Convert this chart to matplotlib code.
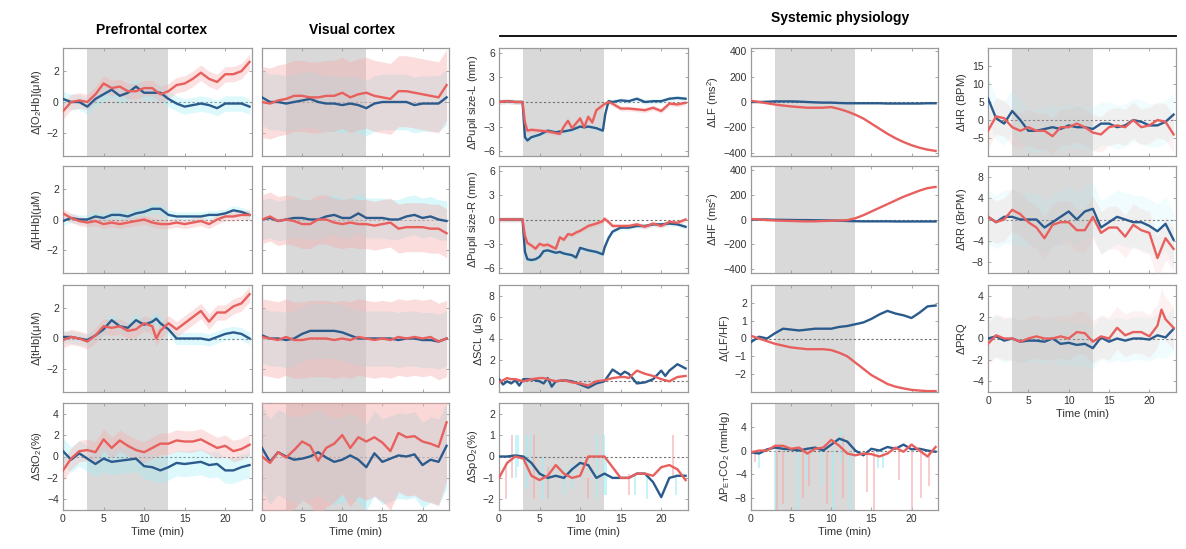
import matplotlib
matplotlib.use("Agg")
import matplotlib.pyplot as plt
from matplotlib.lines import Line2D

plt.rcParams['font.family'] = ['Liberation Sans', 'DejaVu Sans']
plt.rcParams['mathtext.fontset'] = 'custom'
plt.rcParams['mathtext.rm'] = 'Liberation Sans'
plt.rcParams['mathtext.it'] = 'Liberation Sans:italic'
plt.rcParams['mathtext.default'] = 'regular'

# ---------------- data ----------------
T = list(range(24))
shade = (3, 13)

pfc_o2hb_blue = [0.2,0.0,0.0,-0.3,0.2,0.5,0.8,0.4,0.6,1.0,0.6,0.6,0.6,0.2,-0.1,-0.3,-0.2,-0.1,-0.2,-0.4,-0.1,-0.1,-0.1,-0.3]
pfc_o2hb_red = [-0.6,0.0,0.1,0.0,0.5,1.2,0.9,1.0,0.7,0.7,0.9,0.9,0.5,0.7,1.1,1.2,1.5,1.9,1.5,1.3,1.8,1.8,2.0,2.6]
pfc_hhb_blue = [-0.1,0.1,0.0,0.0,0.2,0.1,0.3,0.3,0.2,0.4,0.5,0.7,0.7,0.3,0.2,0.2,0.2,0.2,0.3,0.3,0.4,0.6,0.5,0.3]
pfc_hhb_red = [0.4,0.1,-0.1,-0.2,-0.1,-0.3,-0.2,-0.3,-0.2,-0.1,0.0,-0.2,-0.3,-0.3,-0.2,-0.3,-0.2,-0.1,-0.3,0.0,0.2,0.2,0.3,0.3]
pfc_thb_t = [0,1,2,3,4,5,6,7,8,9,10,11,11.5,12,13,14,15,16,17,18,19,20,21,22,23]
pfc_thb_blue = [0.1,0.1,0.0,-0.1,0.2,0.6,1.2,0.8,0.7,1.2,0.9,1.1,1.3,1.0,0.6,0.0,0.0,0.0,0.0,-0.1,0.1,0.3,0.4,0.3,0.0]
pfc_thb_red = [-0.1,0.1,0.0,-0.2,0.2,0.8,0.7,0.8,0.5,0.6,1.0,0.8,0.0,0.5,1.0,0.6,1.0,1.4,1.8,1.1,1.7,1.7,2.1,2.3,2.9]
pfc_sto2_blue = [0.5,-0.3,0.3,-0.2,-0.7,-0.2,-0.5,-0.4,-0.3,-0.2,-0.9,-1.0,-1.3,-1.0,-0.6,-0.7,-0.6,-0.5,-0.8,-0.7,-1.3,-1.3,-1.0,-0.8]
pfc_sto2_red = [-1.3,-0.2,0.5,0.6,0.4,1.6,0.8,1.5,1.0,0.6,0.4,0.8,1.2,1.2,1.5,1.4,1.4,1.6,1.2,0.8,1.0,0.5,0.7,1.1]

vc_o2hb_blue = [0.3,0.0,0.0,-0.1,0.0,0.1,0.2,0.0,-0.1,-0.1,-0.2,-0.1,-0.2,-0.4,-0.1,0.0,0.0,0.0,0.0,-0.2,-0.1,-0.1,-0.1,0.3]
vc_o2hb_red = [0.0,-0.1,0.1,0.2,0.4,0.4,0.3,0.3,0.4,0.4,0.6,0.3,0.5,0.6,0.4,0.3,0.2,0.7,0.7,0.6,0.5,0.4,0.3,1.1]
vc_hhb_blue = [0.0,0.1,-0.1,0.0,0.1,0.1,0.0,0.0,0.2,0.3,0.1,0.1,0.4,0.1,0.1,0.1,0.0,0.0,0.2,0.3,0.1,0.2,0.0,-0.1]
vc_hhb_red = [0.0,0.2,-0.1,0.0,-0.1,-0.3,-0.3,0.0,0.0,-0.2,-0.3,-0.2,-0.3,-0.3,-0.4,-0.3,-0.2,-0.6,-0.5,-0.5,-0.5,-0.6,-0.6,-0.9]
vc_thb_blue = [0.2,0.0,0.0,-0.1,0.0,0.3,0.5,0.5,0.5,0.5,0.4,0.2,0.0,0.0,0.0,0.0,0.0,-0.1,0.0,0.0,-0.1,-0.1,-0.2,0.0]
vc_thb_red = [0.1,0.0,-0.1,0.1,-0.1,-0.1,0.0,0.0,0.0,-0.1,0.0,-0.1,0.1,0.0,-0.1,0.0,-0.1,0.1,0.0,0.1,0.0,0.1,-0.2,0.0]
vc_sto2_blue = [0.8,-0.5,0.4,0.0,-0.3,-0.2,0.0,0.4,-0.1,-0.5,-0.3,0.1,-0.3,-1.0,0.3,-0.5,-0.2,0.1,0.0,0.2,-0.8,-0.3,-0.5,1.0]
vc_sto2_red = [0.0,-0.6,0.4,-0.1,0.6,1.4,1.0,-0.4,0.8,1.2,2.0,0.8,1.8,1.4,1.8,1.3,0.5,2.2,1.8,1.9,1.4,1.2,0.9,3.2]

pupil_l_t = [0,1,2,2.9,3.2,3.5,4,5,6,7,7.5,8,8.5,9,10,10.5,11,11.5,12,12.8,13.1,13.5,14,15,16,17,18,19,20,21,22,23]
pupil_l_blue = [0.0,0.1,0.0,0.0,-4.3,-4.7,-4.3,-4.0,-3.5,-3.7,-3.6,-3.6,-3.5,-3.4,-3.0,-3.1,-3.0,-3.1,-3.2,-3.5,-1.5,0.1,0.0,0.2,0.1,0.4,0.0,0.1,0.1,0.4,0.5,0.4]
pupil_l_red = [0.0,0.1,0.0,0.0,-2.5,-3.5,-3.4,-3.5,-3.6,-3.8,-3.9,-3.0,-2.3,-3.2,-2.0,-3.1,-1.8,-2.5,-1.0,-0.4,-0.2,0.0,-0.2,-0.8,-0.8,-0.9,-1.0,-0.7,-1.1,-0.2,-0.3,-0.1]
pupil_r_t = [0,1,2,2.9,3.2,3.5,4,4.5,5,5.5,6,7,7.5,8,8.5,9,9.5,10,11,12,12.8,13,13.5,14,15,16,17,18,19,20,21,22,23]
pupil_r_blue = [0,0,0,0,-4.0,-4.9,-5.0,-4.9,-4.6,-3.9,-3.8,-4.1,-4.0,-4.2,-4.3,-4.4,-4.7,-3.5,-3.8,-4.0,-4.3,-3.5,-2.3,-1.5,-1.0,-1.0,-0.8,-0.8,-0.6,-0.6,-0.5,-0.6,-0.9]
pupil_r_red = [0,0,0,0,-2.0,-2.9,-3.2,-3.6,-3.0,-3.2,-3.1,-3.6,-2.2,-2.5,-1.8,-1.9,-1.6,-1.4,-0.8,-0.5,-0.2,0.1,-0.3,-0.8,-0.8,-0.8,-0.6,-0.9,-0.5,-0.8,-0.3,-0.4,0.0]
scl_t = [0,0.5,1,1.5,2,2.5,3,4,5,5.5,6,6.5,7,8,9,10,11,12,13,14,15,15.5,16,17,18,19,20,20.5,21,22,23]
scl_blue = [0.2,-0.3,0.0,-0.2,0.1,-0.4,0.2,0.2,0.0,-0.2,0.3,-0.5,0.0,0.1,0.0,-0.3,-0.6,-0.2,0.0,1.1,0.6,0.9,0.7,-0.2,-0.1,0.2,1.0,0.5,1.0,1.6,1.2]
scl_red = [-0.1,0.1,0.3,0.2,0.2,0.1,0.0,0.2,0.3,0.3,0.2,0.1,0.0,0.1,-0.1,-0.2,-0.4,0.0,0.1,0.3,0.4,0.4,0.3,1.0,0.7,0.5,0.2,0.1,0.0,0.4,0.5]
spo2_blue = [0.0,0.0,0.05,0.0,-0.3,-0.8,-1.0,-0.9,-1.0,-0.6,-0.3,-0.4,-1.0,-0.8,-1.0,-1.0,-1.0,-0.8,-0.8,-1.2,-1.9,-1.0,-0.9,-0.9]
spo2_red = [-1.0,-0.3,0.0,-0.1,-0.9,-1.1,-0.9,-0.4,-0.8,-1.0,-0.9,0.0,0.0,0.0,-0.5,-1.0,-1.0,-0.8,-0.8,-0.9,-0.5,-0.4,-0.6,-1.1]
spo2_spike_blue_t = [2.1,2.4,3.5,4.0,5.4,6.2,8.0,9.0,12.1,12.9,13.2,16.8,18.3,21.8]
spo2_spike_blue_lo = [-1.0,-0.5,-1.5,-0.5,-2.0,-2.0,-1.8,-1.5,-2.0,-1.8,-1.8,-1.8,-2.0,-1.8]
spo2_spike_blue_hi = [1.0,1.0,1.0,1.0,0.0,-0.5,-0.5,-0.3,1.0,1.0,0.0,-0.8,-0.8,-0.8]
spo2_spike_red_t = [0.9,1.6,4.3,6.0,11.0,16.0,21.5]
spo2_spike_red_lo = [-2.0,-1.0,-2.0,-2.0,-2.0,-1.8,-1.0]
spo2_spike_red_hi = [-0.5,1.0,1.0,-0.5,-1.0,-0.8,1.0]

lf_red = [10,0,-10,-20,-28,-35,-40,-45,-45,-45,-40,-55,-75,-100,-130,-170,-210,-250,-285,-315,-340,-360,-375,-385]
lf_blue = [0,0,2,5,5,5,3,0,-3,-5,-5,-8,-10,-10,-10,-10,-10,-12,-12,-12,-12,-12,-10,-10]
hf_red = [5,0,-5,-8,-10,-12,-14,-15,-15,-12,-10,-8,-5,10,35,65,95,125,155,185,210,235,255,265]
hf_blue = [0,0,0,-2,-3,-4,-5,-5,-6,-7,-8,-10,-12,-14,-15,-15,-15,-15,-16,-16,-16,-16,-16,-16]
lfhf_blue = [-0.2,0.1,0.0,0.3,0.55,0.5,0.45,0.5,0.55,0.55,0.55,0.65,0.7,0.8,0.9,1.1,1.35,1.55,1.4,1.3,1.15,1.45,1.8,1.85]
lfhf_red = [0.15,0.0,-0.15,-0.3,-0.4,-0.5,-0.55,-0.6,-0.6,-0.6,-0.65,-0.8,-1.0,-1.35,-1.7,-2.05,-2.3,-2.55,-2.7,-2.8,-2.88,-2.92,-2.95,-2.95]
petco2_blue = [-0.3,-0.5,0.2,0.5,0.3,0.2,0.0,0.3,0.5,0.0,1.0,2.0,1.5,0.0,-0.8,0.3,0.0,0.6,0.3,1.0,0.2,0.3,0.0,-0.2]
petco2_red = [-0.3,0.0,0.0,0.8,0.8,0.3,0.5,-0.5,0.3,0.5,1.8,0.8,-0.5,-0.8,-0.5,-0.6,-1.0,-0.5,0.5,-0.2,1.0,0.0,-1.0,0.6]
petco2_spike_blue_t = [1.0,3.0,5.8,7.0,8.8,10.2,11.2,12.3,15.8,16.5]
petco2_spike_blue_lo = [-3,-10,-10,-5,-6,-10,-2,-10,-3,-3]
petco2_spike_blue_hi = [0,0,0,0,0,0,3.5,0,0,0]
petco2_spike_red_t = [0.5,3.2,4.0,6.5,7.2,9.5,11.5,14.5,15.3,18.5,20.0,21.2,22.2]
petco2_spike_red_lo = [-2,-10,-9,-8,-6,-9,-8,-7,-10,-5,-10,-8,-6]
petco2_spike_red_hi = [0,0,0,0,0,0,2.5,0,0,0,0,0,0]

hr_blue = [6,0.5,-1,2.5,0,-3,-3,-2.5,-2,-2.5,-1.5,-2,-2,-2.5,-1,-1,-2,-1.5,0,-0.5,-1.5,-1.5,-0.5,1.5]
hr_red = [-3,1,0.5,-2,-3,-2,-3,-3,-4.5,-2,-2,-1,-2,-3.5,-4,-2,-1.5,-2,0,-2,-1.5,0,-0.5,-4]
rr_blue = [0.5,-0.5,0.5,0.5,0.0,0.0,0.0,-1.5,-0.5,0.5,1.5,0.0,1.5,2.0,-1.5,-0.5,0.5,0.0,-0.5,-0.5,-1.2,-2.2,-0.8,-3.8]
rr_red = [0.5,-0.5,0.0,1.8,1.0,-0.5,-1.5,-3.5,-1.0,-0.5,-0.5,-2.0,-2.0,0.5,-2.5,-1.5,-1.5,-3.2,-1.0,-2.0,-2.5,-7.2,-3.5,-5.5]
prq_t = [0,1,2,3,4,5,6,7,8,9,10,11,12,13,14,15,16,17,18,19,20,21,21.5,22,23]
prq_blue = [0.0,0.2,-0.2,0.0,-0.3,-0.2,-0.2,-0.3,0.0,-0.5,-0.4,-0.6,-0.5,-0.9,0.1,-0.3,0.0,-0.2,0.0,0.0,-0.1,0.3,0.2,0.1,0.9]
prq_red = [-0.5,0.3,0.0,0.0,-0.3,0.0,0.2,0.0,0.0,0.2,0.0,0.6,0.5,-0.3,0.2,0.0,1.0,0.3,0.6,0.6,0.2,1.2,2.7,1.8,1.0]

# raw-signal spread (half width of the faint background traces)
noise = {
    'pfc_o2hb': (0.5, 0.5), 'pfc_hhb': (0.3, 0.3), 'pfc_thb': (0.4, 0.5), 'pfc_sto2': (1.2, 1.0),
    'vc_o2hb': (1.8, 2.3), 'vc_hhb': (1.3, 1.6), 'vc_thb': (1.8, 2.5), 'vc_sto2': (4.0, 5.5),
    'pupil_l': (0.3, 0.3), 'pupil_r': (0.3, 0.3),
    'hr': (6, 5), 'rr': (5, 4), 'prq': (2, 2),
}

# ---------------- style ----------------
BLUE = '#2b5b8c'
RED = '#e8605e'
CYAN = '#9eeef6'
PINK = '#f6aaaa'
SHADE = '#d9d9d9'
W, H = 1186, 549

fig = plt.figure(figsize=(W/100, H/100), dpi=100)

cols = [(63, 252), (262, 449), (499, 688), (751, 938), (988, 1176)]
rows = [(48, 156), (166, 273), (285, 392), (403, 510)]

def make_ax(c, r):
    x0, x1 = cols[c]
    y0, y1 = rows[r]
    return fig.add_axes([x0/W, 1-y1/H, (x1-x0)/W, (y1-y0)/H])

def style(ax, ylim, yticks, ylabel=None, show_yt=True, show_x=False):
    ax.axvspan(shade[0], shade[1], color=SHADE, lw=0, zorder=0)
    ax.axhline(0, color='#707070', ls=(0, (2, 2)), lw=0.8, zorder=1)
    ax.set_xlim(0, 23.3)
    ax.set_ylim(*ylim)
    ax.set_yticks(yticks)
    ax.set_xticks([0, 5, 10, 15, 20])
    ax.tick_params(direction='in', top=True, right=True, length=2.5, width=0.6,
                   colors='#999999', labelcolor='#333333', labelsize=7.5, pad=3)
    for s in ax.spines.values():
        s.set_color('#9a9a9a')
        s.set_linewidth(0.9)
    if not show_yt:
        ax.set_yticklabels([])
    if show_x:
        ax.set_xlabel('Time (min)', fontsize=8, color='#333333', labelpad=2)
    else:
        ax.set_xticklabels([])
    if ylabel:
        ax.set_ylabel(ylabel, fontsize=8, color='#333333', labelpad=2)

def draw(ax, t, blue, red, key=None, alpha=0.35):
    if key is not None:
        nb, nr = noise[key]
        ax.fill_between(t, [v - nb for v in blue], [v + nb for v in blue], color=CYAN, lw=0, alpha=alpha, zorder=2)
        ax.fill_between(t, [v - nr for v in red], [v + nr for v in red], color=PINK, lw=0, alpha=alpha, zorder=3)
    ax.plot(t, blue, color=BLUE, lw=1.7, zorder=5, solid_joinstyle='round')
    ax.plot(t, red, color=RED, lw=1.7, zorder=6, solid_joinstyle='round')

def spikes(ax, t, lo, hi, color):
    ax.vlines(t, lo, hi, color=color, lw=1.2, alpha=0.7, zorder=2)

nirs_lim = (-3.5, 3.5)
nirs_ticks = [-2, 0, 2]

# Prefrontal cortex
ax = make_ax(0, 0); style(ax, nirs_lim, nirs_ticks, r'$\Delta$[O$_2$Hb]($\mu$M)'); draw(ax, T, pfc_o2hb_blue, pfc_o2hb_red, 'pfc_o2hb')
ax = make_ax(0, 1); style(ax, nirs_lim, nirs_ticks, r'$\Delta$[HHb]($\mu$M)'); draw(ax, T, pfc_hhb_blue, pfc_hhb_red, 'pfc_hhb')
ax = make_ax(0, 2); style(ax, nirs_lim, nirs_ticks, r'$\Delta$[tHb]($\mu$M)'); draw(ax, pfc_thb_t, pfc_thb_blue, pfc_thb_red, 'pfc_thb')
ax = make_ax(0, 3); style(ax, (-5, 5), [-4, -2, 0, 2, 4], r'$\Delta$StO$_2$(%)', show_x=True); draw(ax, T, pfc_sto2_blue, pfc_sto2_red, 'pfc_sto2')

# Visual cortex
ax = make_ax(1, 0); style(ax, nirs_lim, nirs_ticks, show_yt=False); draw(ax, T, vc_o2hb_blue, vc_o2hb_red, 'vc_o2hb', 0.4)
ax = make_ax(1, 1); style(ax, nirs_lim, nirs_ticks, show_yt=False); draw(ax, T, vc_hhb_blue, vc_hhb_red, 'vc_hhb', 0.4)
ax = make_ax(1, 2); style(ax, nirs_lim, nirs_ticks, show_yt=False); draw(ax, T, vc_thb_blue, vc_thb_red, 'vc_thb', 0.4)
ax = make_ax(1, 3); style(ax, (-5, 5), [-4, -2, 0, 2, 4], show_yt=False, show_x=True); draw(ax, T, vc_sto2_blue, vc_sto2_red, 'vc_sto2', 0.45)

# Pupil / SCL / SpO2
ax = make_ax(2, 0); style(ax, (-6.6, 6.6), [-6, -3, 0, 3, 6], r'$\Delta$Pupil size-L (mm)'); draw(ax, pupil_l_t, pupil_l_blue, pupil_l_red, 'pupil_l', 0.3)
ax = make_ax(2, 1); style(ax, (-6.6, 6.6), [-6, -3, 0, 3, 6], r'$\Delta$Pupil size-R (mm)'); draw(ax, pupil_r_t, pupil_r_blue, pupil_r_red, 'pupil_r', 0.3)
ax = make_ax(2, 2); style(ax, (-1, 9), [0, 2, 4, 6, 8], r'$\Delta$SCL ($\mu$S)'); draw(ax, scl_t, scl_blue, scl_red)
ax = make_ax(2, 3); style(ax, (-2.5, 2.5), [-2, -1, 0, 1, 2], r'$\Delta$SpO$_2$(%)', show_x=True)
spikes(ax, spo2_spike_blue_t, spo2_spike_blue_lo, spo2_spike_blue_hi, CYAN)
spikes(ax, spo2_spike_red_t, spo2_spike_red_lo, spo2_spike_red_hi, PINK)
draw(ax, T, spo2_blue, spo2_red)

# HRV / PETCO2
ax = make_ax(3, 0); style(ax, (-425, 425), [-400, -200, 0, 200, 400], r'$\Delta$LF (ms$^2$)'); draw(ax, T, lf_blue, lf_red)
ax = make_ax(3, 1); style(ax, (-435, 435), [-400, -200, 0, 200, 400], r'$\Delta$HF (ms$^2$)'); draw(ax, T, hf_blue, hf_red)
ax = make_ax(3, 2); style(ax, (-3, 3), [-2, -1, 0, 1, 2], r'$\Delta$(LF/HF)'); draw(ax, T, lfhf_blue, lfhf_red)
ax = make_ax(3, 3); style(ax, (-10, 8), [-8, -4, 0, 4], r'$\Delta$P$_{ET}$CO$_2$ (mmHg)', show_x=True)
spikes(ax, petco2_spike_blue_t, petco2_spike_blue_lo, petco2_spike_blue_hi, CYAN)
spikes(ax, petco2_spike_red_t, petco2_spike_red_lo, petco2_spike_red_hi, PINK)
draw(ax, T, petco2_blue, petco2_red)

# HR / RR / PRQ
ax = make_ax(4, 0); style(ax, (-10, 20), [-5, 0, 5, 10, 15], r'$\Delta$HR (BPM)'); draw(ax, T, hr_blue, hr_red, 'hr', 0.15)
ax = make_ax(4, 1); style(ax, (-10, 10), [-8, -4, 0, 4, 8], r'$\Delta$RR (BrPM)'); draw(ax, T, rr_blue, rr_red, 'rr', 0.15)
ax = make_ax(4, 2); style(ax, (-5, 5), [-4, -2, 0, 2, 4], r'$\Delta$PRQ', show_x=True); draw(ax, prq_t, prq_blue, prq_red, 'prq', 0.15)

# headers
fig.text(152/W, 1-30/H, 'Prefrontal cortex', ha='center', va='center', fontsize=10, fontweight='bold')
fig.text(352/W, 1-30/H, 'Visual cortex', ha='center', va='center', fontsize=10, fontweight='bold')
fig.text(840/W, 1-18/H, 'Systemic physiology', ha='center', va='center', fontsize=10, fontweight='bold')
fig.add_artist(Line2D([500/W, 1176/W], [1-36/H, 1-36/H], color='black', lw=1.3))

fig.savefig('out.png', dpi=100)
